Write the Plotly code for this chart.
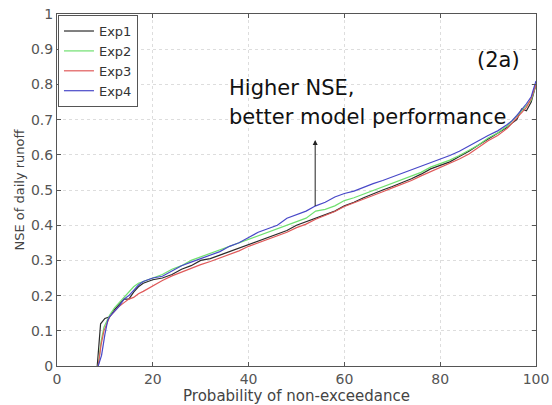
import plotly.graph_objects as go

# Probability of non-exceedance (%) and NSE values for each experiment
exp1_x = [8.4, 8.7, 9.1, 10, 11, 12, 13, 14, 15, 16, 17, 18, 19, 20, 22, 24, 26, 28, 30, 32, 34, 36, 38, 40,
          42, 44, 46, 48, 50, 52, 54, 56, 58, 60, 62, 64, 66, 68, 70, 72, 74, 76, 78, 80, 82, 84, 86, 88,
          90, 92, 94, 95, 96, 97, 98, 99, 100]
exp1_y = [0.0, 0.06, 0.12, 0.135, 0.14, 0.16, 0.175, 0.19, 0.19, 0.21, 0.225, 0.235, 0.24, 0.245, 0.25, 0.26,
          0.275, 0.285, 0.30, 0.305, 0.315, 0.325, 0.335, 0.345, 0.355, 0.365, 0.375, 0.385, 0.40, 0.41,
          0.42, 0.43, 0.44, 0.455, 0.465, 0.478, 0.49, 0.50, 0.51, 0.52, 0.532, 0.545, 0.56, 0.57,
          0.58, 0.595, 0.61, 0.628, 0.645, 0.66, 0.678, 0.69, 0.70, 0.73, 0.725, 0.75, 0.80]

exp2_x = [8.6, 9.2, 9.8, 10.5, 11, 12, 13, 14, 15, 16, 17, 18, 19, 20, 22, 24, 26, 28, 30, 32, 34, 36, 38, 40,
          42, 44, 46, 48, 50, 52, 54, 56, 58, 60, 62, 64, 66, 68, 70, 72, 74, 76, 78, 80, 82, 84, 86, 88,
          90, 92, 94, 95, 96, 97, 98, 99, 100]
exp2_y = [0.0, 0.07, 0.11, 0.13, 0.145, 0.165, 0.18, 0.195, 0.21, 0.225, 0.235, 0.24, 0.245, 0.25, 0.26, 0.275,
          0.285, 0.30, 0.31, 0.32, 0.33, 0.34, 0.35, 0.36, 0.37, 0.38, 0.39, 0.40, 0.41, 0.42, 0.44,
          0.445, 0.455, 0.47, 0.478, 0.488, 0.498, 0.508, 0.518, 0.528, 0.538, 0.55, 0.565, 0.575, 0.585,
          0.598, 0.612, 0.628, 0.648, 0.662, 0.682, 0.695, 0.71, 0.725, 0.74, 0.755, 0.80]

exp3_x = [8.6, 9.2, 9.8, 10.5, 11, 12, 13, 14, 15, 16, 17, 18, 19, 20, 22, 24, 26, 28, 30, 32, 34, 36, 38, 40,
          42, 44, 46, 48, 50, 52, 54, 56, 58, 60, 62, 64, 66, 68, 70, 72, 74, 76, 78, 80, 82, 84, 86, 88,
          90, 92, 94, 95, 96, 97, 98, 99, 100]
exp3_y = [0.0, 0.06, 0.10, 0.125, 0.14, 0.155, 0.17, 0.18, 0.19, 0.195, 0.205, 0.212, 0.22, 0.228, 0.243, 0.256,
          0.267, 0.278, 0.288, 0.297, 0.307, 0.317, 0.327, 0.34, 0.35, 0.36, 0.37, 0.38, 0.393, 0.403, 0.417,
          0.427, 0.439, 0.453, 0.463, 0.473, 0.484, 0.495, 0.506, 0.516, 0.527, 0.54, 0.552, 0.565, 0.575, 0.588,
          0.602, 0.62, 0.64, 0.655, 0.675, 0.69, 0.705, 0.72, 0.735, 0.76, 0.80]

exp4_x = [8.6, 9.3, 10, 10.6, 11, 12, 13, 14, 15, 16, 17, 18, 19, 20, 22, 24, 26, 28, 30, 32, 34, 36, 38, 40,
          42, 44, 46, 48, 50, 52, 54, 56, 58, 60, 62, 64, 66, 68, 70, 72, 74, 76, 78, 80, 82, 84, 86, 88,
          90, 92, 94, 95, 96, 97, 98, 99, 100]
exp4_y = [0.0, 0.03, 0.09, 0.13, 0.14, 0.155, 0.17, 0.19, 0.20, 0.215, 0.23, 0.24, 0.245, 0.25, 0.255, 0.27,
          0.285, 0.295, 0.305, 0.315, 0.325, 0.34, 0.35, 0.365, 0.38, 0.39, 0.40, 0.42, 0.43, 0.44, 0.455,
          0.465, 0.48, 0.49, 0.497, 0.508, 0.518, 0.527, 0.537, 0.546, 0.556, 0.566, 0.578, 0.588, 0.598, 0.61,
          0.624, 0.64, 0.655, 0.668, 0.686, 0.697, 0.712, 0.727, 0.745, 0.765, 0.81]

series = [
    ("Exp1", exp1_x, exp1_y, "#2b2b2b"),
    ("Exp2", exp2_x, exp2_y, "#6fe06f"),
    ("Exp3", exp3_x, exp3_y, "#e05a5a"),
    ("Exp4", exp4_x, exp4_y, "#4848c8"),
]

x_ticks = [0, 20, 40, 60, 80, 100]
y_ticks = [0, 0.1, 0.2, 0.3, 0.4, 0.5, 0.6, 0.7, 0.8, 0.9, 1]
y_tick_labels = ["0", "0.1", "0.2", "0.3", "0.4", "0.5", "0.6", "0.7", "0.8", "0.9", "1"]

fig = go.Figure()
for name, xs, ys, color in series:
    fig.add_trace(go.Scatter(x=xs, y=ys, mode="lines", name=name,
                             line=dict(color=color, width=1.2)))

font_family = "DejaVu Sans, Verdana, sans-serif"
axis_common = dict(
    showline=True, linecolor="#555555", linewidth=1, mirror="ticks",
    ticks="inside", ticklen=4, tickcolor="#555555",
    showgrid=True, gridcolor="#dddddd", griddash="dot", gridwidth=1,
    zeroline=False, automargin=False,
    tickfont=dict(family=font_family, size=14, color="#555555"),
)

fig.update_xaxes(range=[0, 100], tickvals=x_ticks,
                 title=dict(text="Probability of non-exceedance",
                            font=dict(family=font_family, size=15, color="#444444")),
                 **axis_common)
fig.update_yaxes(range=[0, 1], tickvals=y_ticks, ticktext=y_tick_labels,
                 title=dict(text="NSE of daily runoff", standoff=3,
                            font=dict(family=font_family, size=13, color="#444444")),
                 **axis_common)

fig.add_annotation(x=97.1, y=0.87, xref="x", yref="y", text="(2a)", showarrow=False,
                   xanchor="right", font=dict(family=font_family, size=21, color="#111111"))
fig.add_annotation(x=35.5, y=0.79, xref="x", yref="y", text="Higher NSE,", showarrow=False,
                   xanchor="left", font=dict(family=font_family, size=21, color="#111111"))
fig.add_annotation(x=35.5, y=0.707, xref="x", yref="y", text="better model performance",
                   showarrow=False, xanchor="left",
                   font=dict(family=font_family, size=21, color="#111111"))
fig.add_annotation(x=53.9, y=0.642, ax=53.9, ay=0.45, xref="x", yref="y", axref="x", ayref="y",
                   text="", showarrow=True, arrowhead=2, arrowsize=1, arrowwidth=1,
                   arrowcolor="#222222")

fig.update_layout(
    width=552, height=405,
    margin=dict(l=57, r=16, t=14, b=39),
    paper_bgcolor="white", plot_bgcolor="white",
    showlegend=True,
    legend=dict(x=0.002, y=0.997, xanchor="left", yanchor="top",
                bgcolor="white", bordercolor="#555555", borderwidth=1,
                font=dict(family=font_family, size=13, color="#333333"),
                tracegroupgap=0, itemwidth=30),
)

fig.write_html("out.html")
